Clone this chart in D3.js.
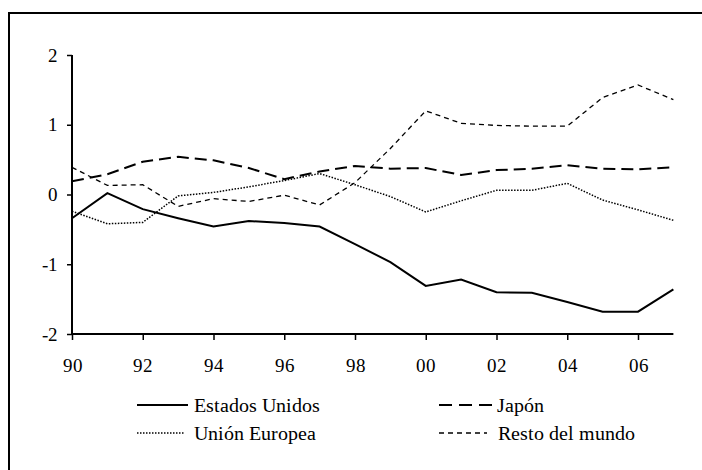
<!DOCTYPE html>
<html>
<head>
<meta charset="utf-8">
<script src="https://cdn.jsdelivr.net/npm/d3@7"></script>
<style>
  @font-face {
    font-family: 'ChartSerif';
    src: local('Liberation Serif'), local('LiberationSerif'), local('LiberationSerif-Regular'), local('Times New Roman'), local('DejaVu Serif');
  }
  body { margin: 0; background: #fff; }
</style>
</head>
<body>
<script>
var years = [1990,1991,1992,1993,1994,1995,1996,1997,1998,1999,2000,2001,2002,2003,2004,2005,2006,2007];
var tickYears = [1990,1992,1994,1996,1998,2000,2002,2004,2006];
var yTicks = [-2,-1,0,1,2];

var estadosUnidos = [-0.34,0.02,-0.21,-0.34,-0.46,-0.38,-0.41,-0.46,-0.71,-0.97,-1.31,-1.22,-1.40,-1.41,-1.54,-1.68,-1.68,-1.36];
var japon = [0.19,0.29,0.47,0.54,0.49,0.38,0.22,0.33,0.41,0.37,0.38,0.28,0.35,0.37,0.42,0.37,0.36,0.39];
var unionEuropea = [-0.24,-0.42,-0.40,-0.02,0.03,0.11,0.20,0.30,0.14,-0.03,-0.25,-0.09,0.06,0.06,0.16,-0.08,-0.22,-0.37];
var restoMundo = [0.39,0.13,0.14,-0.17,-0.06,-0.10,-0.01,-0.15,0.17,0.66,1.20,1.02,0.99,0.98,0.98,1.39,1.57,1.36];

var series = [
  {name:'Estados Unidos', values:estadosUnidos, dash:null, width:2},
  {name:'Japón', values:japon, dash:'12,6', width:2},
  {name:'Unión Europea', values:unionEuropea, dash:'1.5,1.5', width:1.5},
  {name:'Resto del mundo', values:restoMundo, dash:'5,4', width:1.3}
];

var FONT = "ChartSerif, 'Liberation Serif', 'DejaVu Serif', serif";
var W = 702, H = 470;
var svg = d3.select("body").append("svg")
    .attr("width", W)
    .attr("height", H);

// outer frame (runs off the right and bottom edge)
svg.append("rect")
    .attr("x", 9).attr("y", 13)
    .attr("width", 720).attr("height", 500)
    .attr("fill", "none").attr("stroke", "#000").attr("stroke-width", 2);

var x = d3.scaleLinear().domain([1990, 2006]).range([72, 638]);
var y = d3.scaleLinear().domain([-2, 2]).range([334, 55]);

var g = svg.append("g");

// axes
var yAxis = d3.axisLeft(y).tickValues(yTicks).tickSize(5).tickPadding(9)
    .tickFormat(function(d){ return String(d); });
var xAxis = d3.axisBottom(x).tickValues(tickYears).tickSize(6).tickPadding(25)
    .tickFormat(function(d){ return String(d).slice(2); });

var gy = g.append("g").attr("transform", "translate(" + x(1990) + ",0)").call(yAxis);
var gx = g.append("g").attr("transform", "translate(0," + y(-2) + ")").call(xAxis);

[gy, gx].forEach(function(a){
  a.attr("font-family", null).attr("font-size", null);
  a.select(".domain").remove();
  a.selectAll("line").attr("stroke", "#000").attr("stroke-width", 1.5);
  a.selectAll("text").attr("font-family", FONT).attr("font-size", 19).attr("fill", "#000");
});
gx.selectAll("text").attr("dy", "0.35em");
// axis lines
g.append("line").attr("x1", x(1990)).attr("x2", x(1990)).attr("y1", y(2)).attr("y2", y(-2))
  .attr("stroke", "#000").attr("stroke-width", 2);
g.append("line").attr("x1", x(1990)).attr("x2", x(2007)).attr("y1", y(-2)).attr("y2", y(-2))
  .attr("stroke", "#000").attr("stroke-width", 2);

var line = d3.line()
  .x(function(d, i){ return x(years[i]); })
  .y(function(d){ return y(d); });

series.forEach(function(s){
  g.append("path")
    .datum(s.values)
    .attr("d", line)
    .attr("fill", "none")
    .attr("stroke", "#000")
    .attr("stroke-width", s.width)
    .attr("stroke-dasharray", s.dash);
});

// legend
var legendPos = [
  {lx:137, lx2:188, tx:194, ty:405},
  {lx:439, lx2:492, tx:497, ty:405},
  {lx:137, lx2:185, tx:194, ty:433},
  {lx:439, lx2:487, tx:498, ty:433}
];
var leg = svg.append("g");
series.forEach(function(s, i){
  var p = legendPos[i];
  leg.append("line")
    .attr("x1", p.lx).attr("x2", p.lx2).attr("y1", p.ty).attr("y2", p.ty)
    .attr("stroke", "#000").attr("stroke-width", s.width)
    .attr("stroke-dasharray", i === 1 ? '13,7' : s.dash);
  leg.append("text")
    .attr("x", p.tx).attr("y", p.ty)
    .attr("dy", "0.35em")
    .attr("font-family", FONT)
    .attr("font-size", 20)
    .text(s.name);
});
</script>
</body>
</html>
